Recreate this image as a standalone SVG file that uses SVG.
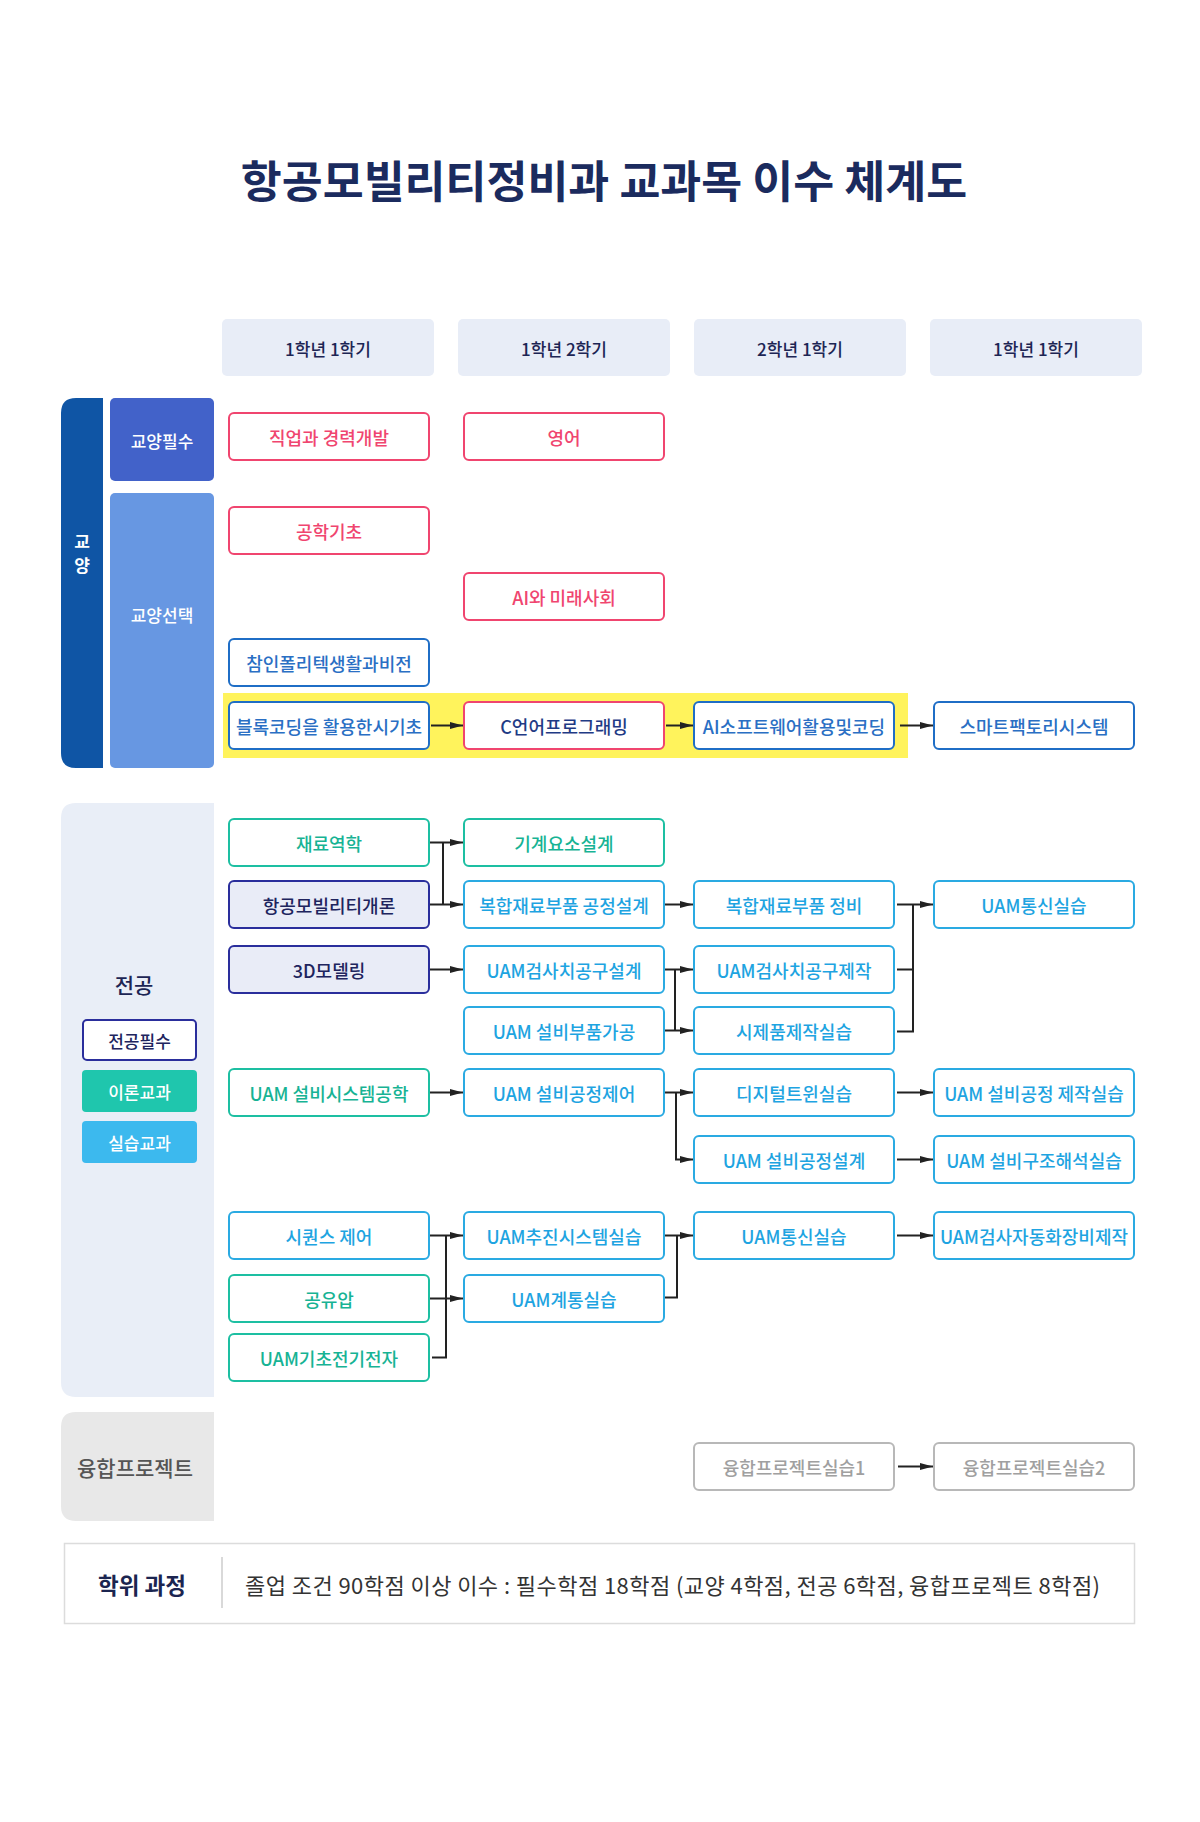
<svg xmlns="http://www.w3.org/2000/svg" width="1200" height="1822" viewBox="0 0 1200 1822">
<style>
text{font-family:"Noto Sans CJK KR","Noto Sans",sans-serif;dominant-baseline:central;text-anchor:middle}
.hd rect{fill:#e8edf7}
.hd text{font-size:17px;fill:#1c2554;font-weight:500}
.n rect{stroke-width:2;fill:#fff}
.n text{font-size:18px;font-weight:500}
.red rect{stroke:#f0456f}.red text{fill:#f0456f}
.blu rect{stroke:#1f6ec6}.blu text{fill:#2a6fc4}
.cl rect{stroke:#f0456f}.cl text{fill:#1f3b85}
.nav rect{stroke:#2a2e9c;fill:#e9ecf7}.nav text{fill:#20245e}
.tea rect{stroke:#1dbfa2}.tea text{fill:#17b394}
.sky rect{stroke:#2aaae2}.sky text{fill:#1ea4e1}
.gry rect{stroke:#b8b8b8}.gry text{fill:#a0a0a0}
.conn path{fill:none;stroke:#222;stroke-width:2}
.conn path.a{marker-end:url(#ah)}
</style>
<defs>
<marker id="ah" markerUnits="userSpaceOnUse" markerWidth="14" markerHeight="8" refX="13" refY="4" orient="auto"><path d="M0,0.5 L13,4 L0,7.5 Z" fill="#222"/></marker>
</defs>
<rect width="1200" height="1822" fill="#fff"/>
<text x="604" y="178" style="font-size:44.5px;font-weight:700;fill:#1b2b5e">항공모빌리티정비과 교과목 이수 체계도</text>

<g id="headers" class="hd">
<rect x="222" y="319" width="212" height="57" rx="5"/><text x="328" y="348">1학년 1학기</text>
<rect x="458" y="319" width="212" height="57" rx="5"/><text x="564" y="348">1학년 2학기</text>
<rect x="694" y="319" width="212" height="57" rx="5"/><text x="800" y="348">2학년 1학기</text>
<rect x="930" y="319" width="212" height="57" rx="5"/><text x="1036" y="348">1학년 1학기</text>
</g>

<g id="gyoyang-labels">
<path d="M76,398 H103 V768 H76 Q61,768 61,753 V413 Q61,398 76,398 Z" fill="#0f55a5"/>
<text x="82" y="540" style="font-size:17px;font-weight:700;fill:#fff">교</text>
<text x="82" y="564" style="font-size:17px;font-weight:700;fill:#fff">양</text>
<rect x="110" y="398" width="104" height="83" rx="5" fill="#4262c9"/>
<text x="162" y="440" style="font-size:17px;fill:#fff;font-weight:500">교양필수</text>
<rect x="110" y="493" width="104" height="275" rx="5" fill="#6797e2"/>
<text x="162" y="614" style="font-size:17px;fill:#fff;font-weight:500">교양선택</text>
</g>

<rect id="highlight" x="223" y="693" width="685" height="65" fill="#fff35c"/>

<g id="jeongong-labels">
<path d="M76,803 H214 V1397 H76 Q61,1397 61,1382 V818 Q61,803 76,803 Z" fill="#e9eef7"/>
<text x="134" y="984" style="font-size:21px;font-weight:500;fill:#1c2554">전공</text>
<rect x="83" y="1020" width="113" height="40" rx="4" fill="#fff" stroke="#2a2e9c" stroke-width="2"/>
<text x="139.5" y="1040" style="font-size:17px;font-weight:500;fill:#20245e">전공필수</text>
<rect x="82" y="1070" width="115" height="42" rx="4" fill="#1fc6ad"/>
<text x="139.5" y="1091" style="font-size:17px;font-weight:500;fill:#fff">이론교과</text>
<rect x="82" y="1121" width="115" height="42" rx="4" fill="#3cb9ee"/>
<text x="139.5" y="1142" style="font-size:17px;font-weight:500;fill:#fff">실습교과</text>
</g>

<g id="yunghap-label">
<path d="M76,1412 H214 V1521 H76 Q61,1521 61,1506 V1427 Q61,1412 76,1412 Z" fill="#e8e8e8"/>
<text x="135" y="1467" style="font-size:21px;font-weight:500;fill:#555">융합프로젝트</text>
</g>

<g id="n1" class="n red"><rect x="229" y="413" width="200" height="47" rx="5"/><text x="329" y="436.5">직업과 경력개발</text></g>
<g id="n2" class="n red"><rect x="464" y="413" width="200" height="47" rx="5"/><text x="564" y="436.5">영어</text></g>
<g id="n3" class="n red"><rect x="229" y="507" width="200" height="47" rx="5"/><text x="329" y="530.5">공학기초</text></g>
<g id="n4" class="n red"><rect x="464" y="573" width="200" height="47" rx="5"/><text x="564" y="596.5">AI와 미래사회</text></g>
<g id="n5" class="n blu"><rect x="229" y="639" width="200" height="47" rx="5"/><text x="329" y="662.5">참인폴리텍생활과비전</text></g>
<g id="n6" class="n blu"><rect x="229" y="702" width="200" height="47" rx="5"/><text x="329" y="725.5">블록코딩을 활용한시기초</text></g>
<g id="n7" class="n cl"><rect x="464" y="702" width="200" height="47" rx="5"/><text x="564" y="725.5">C언어프로그래밍</text></g>
<g id="n8" class="n blu"><rect x="694" y="702" width="200" height="47" rx="5"/><text x="794" y="725.5">AI소프트웨어활용및코딩</text></g>
<g id="n9" class="n blu"><rect x="934" y="702" width="200" height="47" rx="5"/><text x="1034" y="725.5">스마트팩토리시스템</text></g>

<g id="m1" class="n tea"><rect x="229" y="819" width="200" height="47" rx="5"/><text x="329" y="842.5">재료역학</text></g>
<g id="m2" class="n tea"><rect x="464" y="819" width="200" height="47" rx="5"/><text x="564" y="842.5">기계요소설계</text></g>
<g id="m3" class="n nav"><rect x="229" y="881" width="200" height="47" rx="5"/><text x="329" y="904.5">항공모빌리티개론</text></g>
<g id="m4" class="n sky"><rect x="464" y="881" width="200" height="47" rx="5"/><text x="564" y="904.5">복합재료부품 공정설계</text></g>
<g id="m5" class="n sky"><rect x="694" y="881" width="200" height="47" rx="5"/><text x="794" y="904.5">복합재료부품 정비</text></g>
<g id="m6" class="n sky"><rect x="934" y="881" width="200" height="47" rx="5"/><text x="1034" y="904.5">UAM통신실습</text></g>
<g id="m7" class="n nav"><rect x="229" y="946" width="200" height="47" rx="5"/><text x="329" y="969.5">3D모델링</text></g>
<g id="m8" class="n sky"><rect x="464" y="946" width="200" height="47" rx="5"/><text x="564" y="969.5">UAM검사치공구설계</text></g>
<g id="m9" class="n sky"><rect x="694" y="946" width="200" height="47" rx="5"/><text x="794" y="969.5">UAM검사치공구제작</text></g>
<g id="m10" class="n sky"><rect x="464" y="1007" width="200" height="47" rx="5"/><text x="564" y="1030.5">UAM 설비부품가공</text></g>
<g id="m11" class="n sky"><rect x="694" y="1007" width="200" height="47" rx="5"/><text x="794" y="1030.5">시제품제작실습</text></g>
<g id="m12" class="n tea"><rect x="229" y="1069" width="200" height="47" rx="5"/><text x="329" y="1092.5">UAM 설비시스템공학</text></g>
<g id="m13" class="n sky"><rect x="464" y="1069" width="200" height="47" rx="5"/><text x="564" y="1092.5">UAM 설비공정제어</text></g>
<g id="m14" class="n sky"><rect x="694" y="1069" width="200" height="47" rx="5"/><text x="794" y="1092.5">디지털트윈실습</text></g>
<g id="m15" class="n sky"><rect x="934" y="1069" width="200" height="47" rx="5"/><text x="1034" y="1092.5">UAM 설비공정 제작실습</text></g>
<g id="m16" class="n sky"><rect x="694" y="1136" width="200" height="47" rx="5"/><text x="794" y="1159.5">UAM 설비공정설계</text></g>
<g id="m17" class="n sky"><rect x="934" y="1136" width="200" height="47" rx="5"/><text x="1034" y="1159.5">UAM 설비구조해석실습</text></g>
<g id="m18" class="n sky"><rect x="229" y="1212" width="200" height="47" rx="5"/><text x="329" y="1235.5">시퀀스 제어</text></g>
<g id="m19" class="n sky"><rect x="464" y="1212" width="200" height="47" rx="5"/><text x="564" y="1235.5">UAM추진시스템실습</text></g>
<g id="m20" class="n sky"><rect x="694" y="1212" width="200" height="47" rx="5"/><text x="794" y="1235.5">UAM통신실습</text></g>
<g id="m21" class="n sky"><rect x="934" y="1212" width="200" height="47" rx="5"/><text x="1034" y="1235.5">UAM검사자동화장비제작</text></g>
<g id="m22" class="n tea"><rect x="229" y="1275" width="200" height="47" rx="5"/><text x="329" y="1298.5">공유압</text></g>
<g id="m23" class="n sky"><rect x="464" y="1275" width="200" height="47" rx="5"/><text x="564" y="1298.5">UAM계통실습</text></g>
<g id="m24" class="n tea"><rect x="229" y="1334" width="200" height="47" rx="5"/><text x="329" y="1357.5">UAM기초전기전자</text></g>

<g id="p1" class="n gry"><rect x="694" y="1443" width="200" height="47" rx="5"/><text x="794" y="1466.5">융합프로젝트실습1</text></g>
<g id="p2" class="n gry"><rect x="934" y="1443" width="200" height="47" rx="5"/><text x="1034" y="1466.5">융합프로젝트실습2</text></g>

<g id="connectors" class="conn">
<path class="a" d="M431,725.5 H463"/>
<path class="a" d="M666,725.5 H693"/>
<path class="a" d="M900,725.5 H933"/>
<path class="a" d="M430,842.5 H463"/>
<path class="a" d="M430,904.5 H463"/>
<path d="M443,842.5 V904.5"/>
<path class="a" d="M430,969.5 H463"/>
<path class="a" d="M665,904.5 H693"/>
<path class="a" d="M665,969.5 H693"/>
<path class="a" d="M665,1030.5 H693"/>
<path d="M675,969.5 V1030.5"/>
<path class="a" d="M897,904.5 H933"/>
<path d="M897,969.5 H913 M897,1031.5 H914 M913,904.5 V1031.5"/>
<path class="a" d="M430,1092.5 H463"/>
<path class="a" d="M665,1092.5 H693"/>
<path class="a" d="M676,1092.5 V1159.5 H693"/>
<path class="a" d="M897,1092.5 H933"/>
<path class="a" d="M897,1159.5 H933"/>
<path class="a" d="M430,1235.5 H463"/>
<path class="a" d="M430,1298.5 H463"/>
<path d="M432,1357.5 H446 V1235.5"/>
<path class="a" d="M665,1235.5 H693"/>
<path d="M665,1297.5 H677 V1235.5"/>
<path class="a" d="M897,1235.5 H933"/>
<path class="a" d="M898,1466.5 H933"/>
</g>

<g id="degree">
<rect x="64.5" y="1543.5" width="1070" height="80" fill="#fff" stroke="#dcdcdc" stroke-width="1.5"/>
<line x1="222" y1="1557" x2="222" y2="1608" stroke="#cccccc" stroke-width="1.5"/>
<text x="142" y="1584" style="font-size:22.5px;font-weight:700;fill:#1b2550">학위 과정</text>
<text x="245" y="1584" textLength="855" lengthAdjust="spacing" style="font-size:22px;fill:#333;text-anchor:start">졸업 조건 90학점 이상 이수 : 필수학점 18학점 (교양 4학점, 전공 6학점, 융합프로젝트 8학점)</text>
</g>
</svg>
